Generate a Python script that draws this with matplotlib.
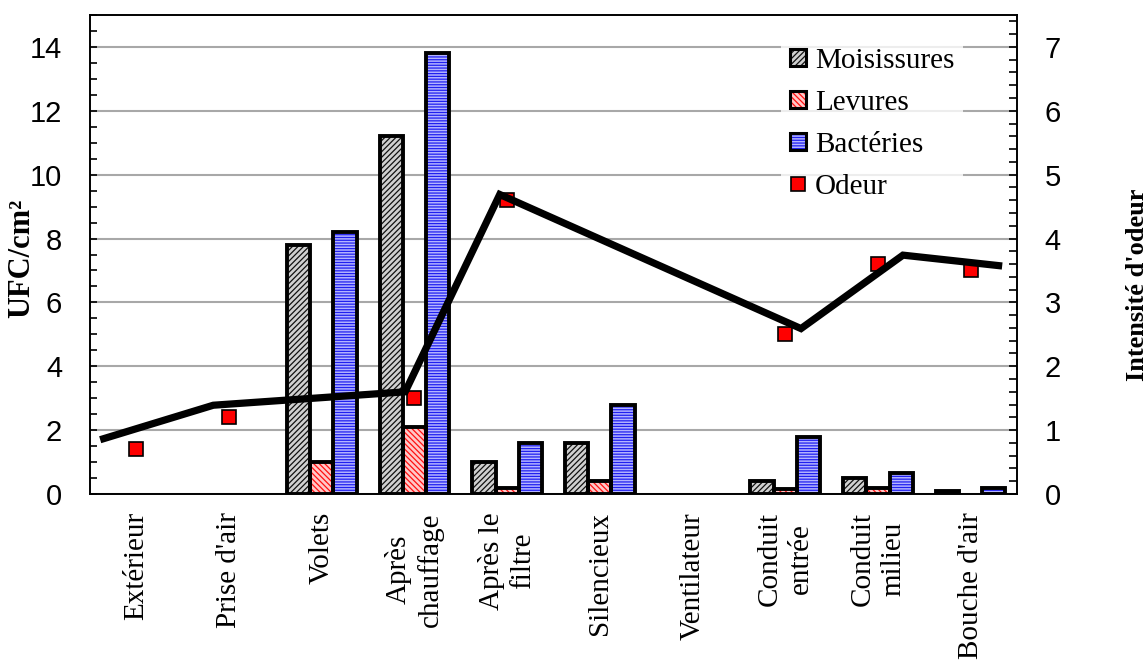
import numpy as np
import matplotlib
matplotlib.use("Agg")
import matplotlib.pyplot as plt
from matplotlib.patches import Patch
from matplotlib.lines import Line2D
from matplotlib.ticker import MultipleLocator

# sampling points along the ventilation circuit
categories = ["Extérieur", "Prise d'air", "Volets", "Après\nchauffage", "Après le\nfiltre",
              "Silencieux", "Ventilateur", "Conduit\nentrée", "Conduit\nmilieu", "Bouche d'air"]

# UFC/cm² per point
moisissures = [0, 0, 7.8, 11.2, 1.0, 1.6, 0, 0.4, 0.5, 0.1]
levures = [0, 0, 1.0, 2.1, 0.2, 0.4, 0, 0.15, 0.2, 0]
bacteries = [0, 0, 8.2, 13.8, 1.6, 2.8, 0, 1.8, 0.65, 0.2]

# odour intensity (nan = not measured)
odeur = [0.7, 1.2, np.nan, 1.5, 4.6, np.nan, np.nan, 2.5, 3.6, 3.5]

# trend line for the odour, own x positions (category units)
tendance_x = [-0.39, 0.83, 2.90, 3.92, 7.17, 8.27, 9.34]
tendance_y = [0.85, 1.39, 1.60, 4.69, 2.59, 3.74, 3.57]

SANS = "Liberation Sans"
SERIF = "Liberation Serif"
plt.rcParams["hatch.linewidth"] = 0.9

series = [
    ("Moisissures", moisissures, "#d0d0d0", "#111111", "//////"),
    ("Levures", levures, "#ffc8c8", "#ff1010", "\\\\\\\\\\\\"),
    ("Bactéries", bacteries, "#b4b4ff", "#2020f0", "------"),
]

fig = plt.figure(figsize=(11.48, 6.70), dpi=100)
ax = fig.add_axes([90 / 1148, 1 - 494 / 670, 927 / 1148, 479 / 670])
ax2 = ax.twinx()

x = np.arange(len(categories))
width = 0.25
handles = []
for k, (name, vals, face, hcol, hatch) in enumerate(series):
    vals = np.asarray(vals, dtype=float)
    m = vals > 0
    pos = x[m] + (k - 1) * width
    ax.bar(pos, vals[m], width, color=face, edgecolor=hcol, hatch=hatch,
           linewidth=0, zorder=2)
    ax.bar(pos, vals[m], width, fill=False, edgecolor="black", linewidth=2.8, zorder=3)
    handles.append((Patch(facecolor=face, edgecolor=hcol, hatch=hatch, linewidth=0),
                    Patch(fill=False, edgecolor="black", linewidth=2.2)))

ax.set_xlim(-0.5, len(categories) - 0.5)
ax.set_ylim(0, 15)
ax2.set_ylim(0, 7.5)

ax2.plot(x, odeur, linestyle="none", marker="s", ms=9.5, mfc="#ff0000", mec="black",
         mew=1.2, zorder=3)
ax2.plot(tendance_x, tendance_y, color="black", lw=5.2, solid_joinstyle="miter",
         solid_capstyle="butt", zorder=4)
handles.append(Line2D([], [], linestyle="none", marker="s", ms=10, mfc="#ff0000",
                      mec="black", mew=1.2))

# grid and ticks
ax.yaxis.set_major_locator(MultipleLocator(2))
ax.yaxis.set_minor_locator(MultipleLocator(0.5))
ax2.yaxis.set_major_locator(MultipleLocator(1))
ax2.yaxis.set_minor_locator(MultipleLocator(0.2))
ax.grid(axis="y", which="major", color="#a8a8a8", lw=1.5, zorder=0)
ax.set_axisbelow(True)

for a in (ax, ax2):
    a.tick_params(axis="y", which="both", direction="in", length=5, width=1.2,
                  pad=20, labelsize=21)
    for lab in a.get_yticklabels():
        lab.set_fontfamily(SANS)
    for s in a.spines.values():
        s.set_linewidth(1.2)
ax2.tick_params(axis="y", which="both", length=6)

ax.set_xticks(x)
ax.set_xticklabels(categories, rotation=90, ha="center", va="top",
                   family=SERIF, fontsize=21, linespacing=1.25)
ax.tick_params(axis="x", length=0, pad=13)

fig.text(22 / 1148, 1 - 258 / 670, "UFC/cm²", rotation=90, ha="center", va="center",
         family=SERIF, fontweight="bold", fontsize=22)
fig.text(1137 / 1148, 1 - 285 / 670, "Intensité d'odeur", rotation=90, ha="center",
         va="center", family=SERIF, fontweight="bold", fontsize=19)

leg = ax2.legend(handles, ["Moisissures", "Levures", "Bactéries", "Odeur"],
                 loc="upper left", bbox_to_anchor=(0.73, 0.98), frameon=True,
                 prop={"family": SERIF, "size": 21}, handlelength=0.55, handleheight=0.55,
                 handletextpad=0.3, labelspacing=0.55, borderpad=0.3, fancybox=False)
leg.get_frame().set_facecolor("white")
leg.get_frame().set_edgecolor("none")

plt.savefig("out.png", dpi=100)
